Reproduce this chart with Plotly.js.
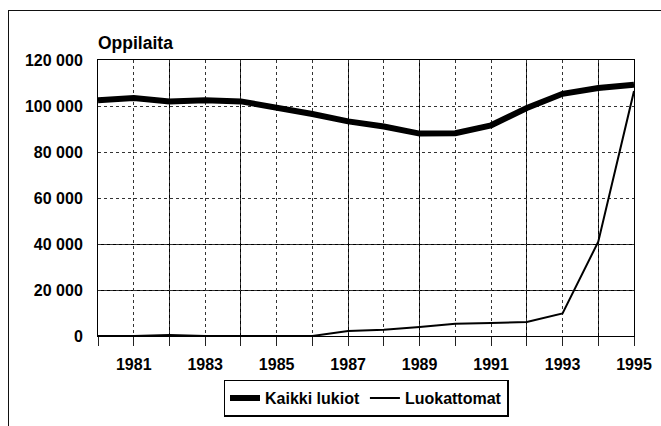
<!DOCTYPE html>
<html><head><meta charset="utf-8">
<script src="https://cdn.plot.ly/plotly-3.0.1.min.js"></script>
<style>
html,body{margin:0;padding:0;background:#fff;}
#wrap{position:relative;width:661px;height:426px;overflow:hidden;}
#chart{width:661px;height:426px;}
#frame{position:absolute;left:8px;top:10px;width:700px;height:500px;border-left:1.5px solid #111;border-top:1.5px solid #111;pointer-events:none;}
</style></head>
<body><div id="wrap"><div id="chart"></div><div id="frame"></div></div>
<script>
const years = [1980,1981,1982,1983,1984,1985,1986,1987,1988,1989,1990,1991,1992,1993,1994,1995];
const kaikkiLukiot = [102500,103500,102000,102500,102000,99500,96500,93300,91100,88000,88200,91600,99100,105300,107800,109200];
const luokattomat = [0,0,400,0,0,0,0,2200,2700,3900,5300,5600,6100,9800,41000,106500];
const xTickText = ['', '1981','','1983','','1985','','1987','','1989','','1991','','1993','','1995'];
const yTicks = [0,20000,40000,60000,80000,100000,120000];
const solidYearGrid = [1982,1984,1987,1989,1992,1994];
const solidValueGrid = [20000,40000];
const seriesNames = ['Kaikki lukiot','Luokattomat'];

const font = {family:'Liberation Sans, Arial, sans-serif', color:'#000'};
const traces = [
  {x:years, y:kaikkiLukiot, name:seriesNames[0], type:'scatter', mode:'lines',
   line:{color:'#000', width:6}, cliponaxis:false},
  {x:years, y:luokattomat, name:seriesNames[1], type:'scatter', mode:'lines',
   line:{color:'#000', width:2}, cliponaxis:false}
];
const layout = {
  width:661, height:426,
  margin:{l:98, r:27, t:60, b:90, autoexpand:false},
  paper_bgcolor:'#fff', plot_bgcolor:'#fff',
  separators:', ',
  font:Object.assign({size:16, weight:'bold'}, font),
  showlegend:true,
  title:{text:'Oppilaita', x:98/661, xanchor:'left', y:1-43/426, yanchor:'middle',
         font:Object.assign({size:17.5, weight:'bold'}, font)},
  xaxis:{range:[1980,1995], tickmode:'array', tickvals:years, ticktext:xTickText,
         ticks:'outside', ticklen:9, tickwidth:1, tickcolor:'#222', ticklabelstandoff:5,
         showgrid:true, gridcolor:'#333', griddash:'dot', gridwidth:1,
         showline:true, linecolor:'#000', linewidth:1, mirror:true, zeroline:false,
         tickfont:Object.assign({size:16, weight:'bold'}, font),
         minor:{tickmode:'array', tickvals:solidYearGrid, showgrid:true, gridcolor:'#000', gridwidth:1, griddash:'solid', ticks:''}},
  yaxis:{range:[0,120000], tickmode:'array', tickvals:yTicks, tickformat:',d',
         ticks:'', ticklabelstandoff:11,
         showgrid:true, gridcolor:'#333', griddash:'dot', gridwidth:1,
         showline:true, linecolor:'#000', linewidth:1, mirror:true, zeroline:false,
         tickfont:Object.assign({size:16, weight:'bold'}, font),
         minor:{tickmode:'array', tickvals:solidValueGrid, showgrid:true, gridcolor:'#000', gridwidth:1, griddash:'solid', ticks:''}},
  legend:{orientation:'h', x:0.5, xanchor:'center', y:-0.158, yanchor:'top',
          bordercolor:'#000', borderwidth:1.5, bgcolor:'#fff',
          font:Object.assign({size:16, weight:'bold'}, font), itemwidth:30}
};
Plotly.newPlot('chart', traces, layout, {staticPlot:true});
</script></body></html>
